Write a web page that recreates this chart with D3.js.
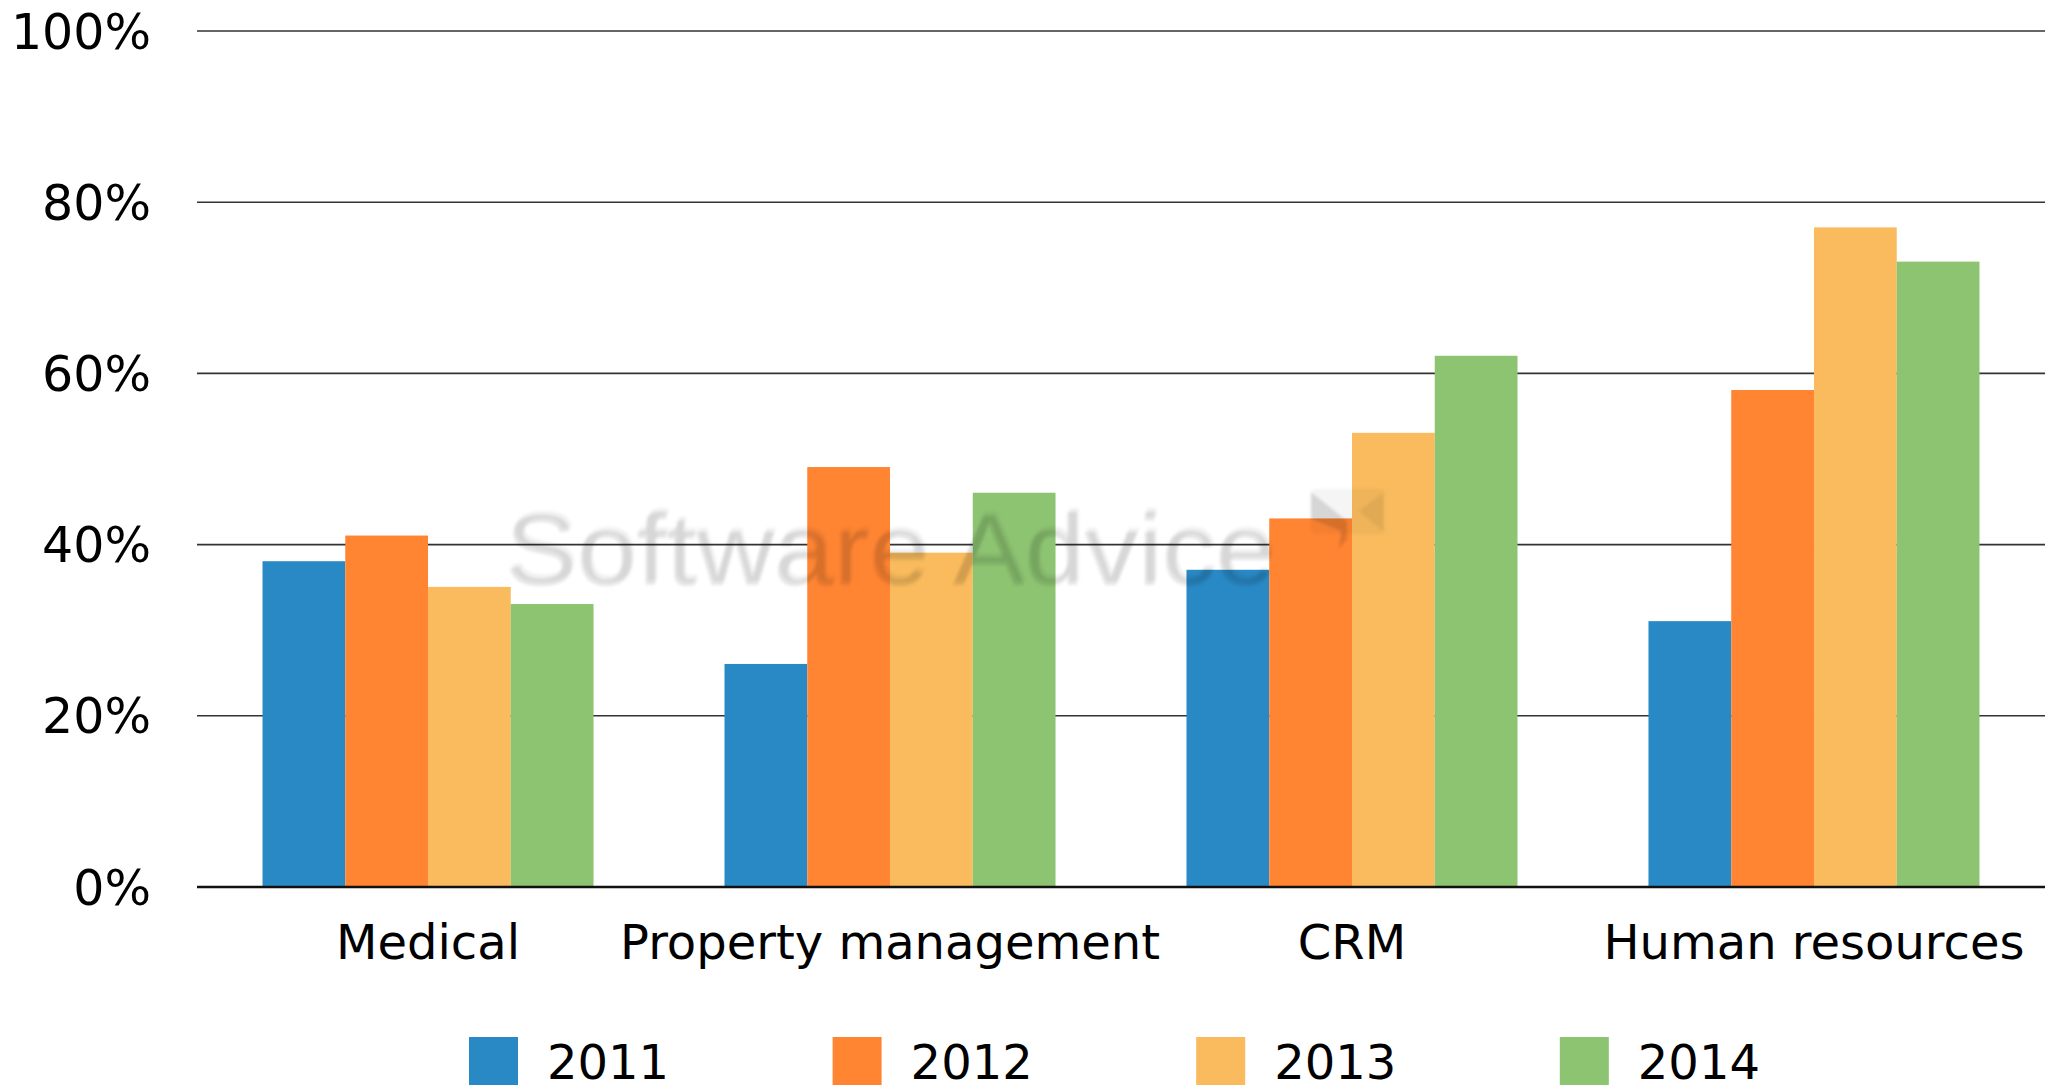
<!DOCTYPE html>
<html>
<head>
<meta charset="utf-8">
<script src="https://cdn.jsdelivr.net/npm/d3@7"></script>
<style>
  html, body { margin: 0; padding: 0; background: #fff; overflow: hidden; }
  svg { display: block; }
</style>
</head>
<body>
<script>
const categories = ["Medical", "Property management", "CRM", "Human resources"];
const years = ["2011", "2012", "2013", "2014"];
const s2011 = [38, 26, 37, 31];
const s2012 = [41, 49, 43, 58];
const s2013 = [35, 39, 53, 77];
const s2014 = [33, 46, 62, 73];
const yTicks = [0, 20, 40, 60, 80, 100];
const colors = ["#2989C5", "#FF8533", "#F9BB5D", "#8DC472"];

(function () {
const series = [s2011, s2012, s2013, s2014];
const W = 2045, H = 1085;
const plotLeft = 197, plotRight = 2045, plotTop = 30.5, plotBottom = 886.5;

const svg = d3.select("body").append("svg").attr("width", W).attr("height", H);

const x0 = d3.scaleBand().domain(categories).range([plotLeft, plotRight])
  .paddingInner(0.2835).paddingOuter(0.1418);
const x1 = d3.scaleBand().domain(years).range([0, x0.bandwidth()]).padding(0);
const y = d3.scaleLinear().domain([0, 100]).range([plotBottom, plotTop]);
const color = d3.scaleOrdinal().domain(years).range(colors);

const font = "'DejaVu Sans', Verdana, sans-serif";

// gridlines + y labels via axis
const yAxis = d3.axisLeft(y).tickValues(yTicks).tickFormat(d => d + "%")
  .tickSize(-(plotRight - plotLeft)).tickPadding(46);
const gy = svg.append("g").attr("transform", `translate(${plotLeft},0)`).call(yAxis);
gy.select(".domain").remove();
gy.selectAll(".tick line").attr("stroke", "#333").attr("stroke-width", 1.6);
gy.selectAll(".tick text").attr("font-family", font).attr("font-size", 49)
  .attr("fill", "#000").attr("dy", "0.36em");

// bars
const groups = svg.append("g").selectAll("g").data(categories).join("g")
  .attr("transform", d => `translate(${x0(d)},0)`);
groups.selectAll("rect")
  .data((c, i) => years.map((yr, j) => ({ yr, v: series[j][i] })))
  .join("rect")
  .attr("x", d => x1(d.yr))
  .attr("width", x1.bandwidth())
  .attr("y", d => y(d.v))
  .attr("height", d => y(0) - y(d.v))
  .attr("fill", d => color(d.yr));

// zero axis line
svg.append("line").attr("x1", plotLeft).attr("x2", plotRight)
  .attr("y1", y(0) + 0.5).attr("y2", y(0) + 0.5)
  .attr("stroke", "#111").attr("stroke-width", 2.5);

// category axis labels
const xAxis = d3.axisBottom(x0).tickSize(0).tickPadding(38);
const gx = svg.append("g").attr("transform", `translate(0,${y(0)})`).call(xAxis);
gx.select(".domain").remove();
gx.selectAll(".tick text").attr("font-family", font).attr("font-size", 48).attr("fill", "#000");

// watermark
const defs = svg.append("defs");
defs.append("filter").attr("id", "wmblur").append("feGaussianBlur").attr("stdDeviation", 1.6);
const wm = svg.append("g").attr("filter", "url(#wmblur)").attr("pointer-events", "none");
const wmX = plotLeft + 310, wmY = y(40) + 37;
wm.append("text").attr("x", wmX - 2).attr("y", wmY + 4)
  .attr("font-family", "'Liberation Sans', Arial, sans-serif").attr("font-size", 100)
  .attr("textLength", 770).attr("lengthAdjust", "spacingAndGlyphs")
  .attr("fill", "#000").attr("opacity", 0.10).text("Software Advice");
wm.append("text").attr("x", wmX).attr("y", wmY)
  .attr("font-family", "'Liberation Sans', Arial, sans-serif").attr("font-size", 100)
  .attr("textLength", 770).attr("lengthAdjust", "spacingAndGlyphs")
  .attr("fill", "#000").attr("opacity", 0.06).text("Software Advice");
const lg = wm.append("g").attr("transform", `translate(${wmX + 804},${y(40) - 55})`);
lg.append("rect").attr("width", 74).attr("height", 45).attr("rx", 5)
  .attr("fill", "#000").attr("opacity", 0.04);
lg.append("path").attr("d", "M0,3 L36,32 L36,50 L28,60 L30,42 L0,30 Z")
  .attr("fill", "#000").attr("opacity", 0.13);
lg.append("path").attr("d", "M72,4 L48,22 L72,42 Z")
  .attr("fill", "#000").attr("opacity", 0.06);

// legend
const legendX0 = 469, legendStep = 363.6, legendY = 1037;
const leg = svg.append("g").selectAll("g").data(years).join("g")
  .attr("transform", (d, i) => `translate(${legendX0 + i * legendStep},${legendY})`);
leg.append("rect").attr("width", 49).attr("height", 60).attr("fill", d => color(d));
leg.append("text").attr("x", 78).attr("y", 42).attr("font-family", font)
  .attr("font-size", 48).attr("fill", "#000").text(d => d);
})();
</script>
</body>
</html>
